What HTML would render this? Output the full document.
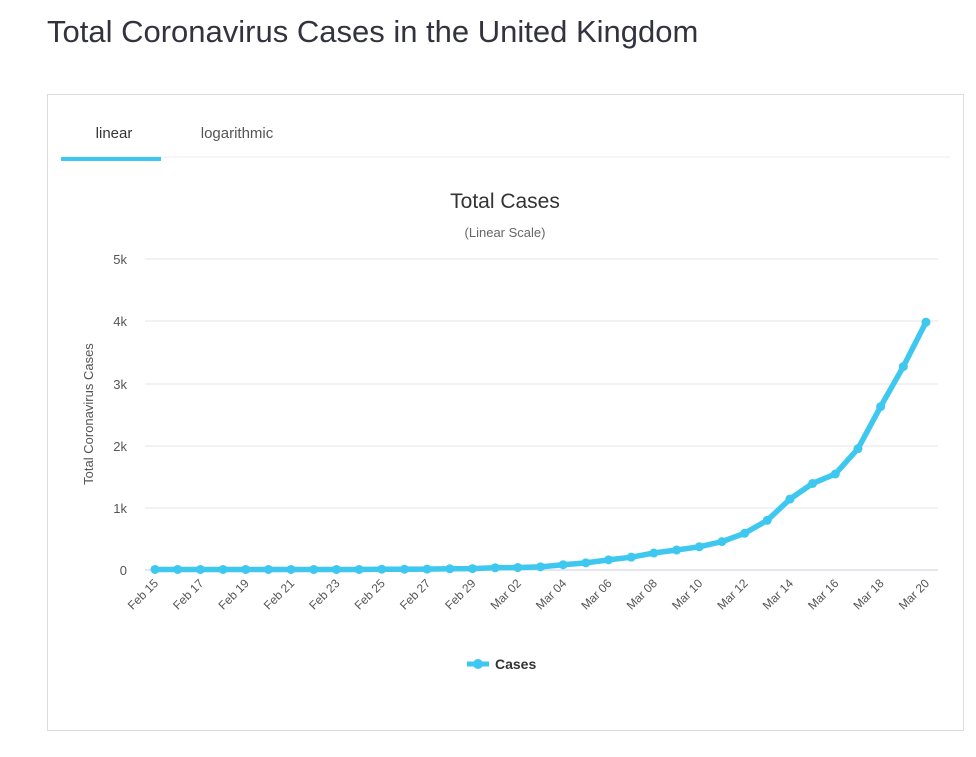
<!DOCTYPE html>
<html><head><meta charset="utf-8"><style>
body{margin:0;background:#fff;width:976px;height:757px;overflow:hidden;font-family:"Liberation Sans",sans-serif;}
h1{position:absolute;left:47px;top:14px;margin:0;font-weight:normal;font-size:31px;color:#333340;}
.box{position:absolute;left:47px;top:94px;width:917px;height:637px;border:1px solid #ddd;box-sizing:border-box;}
</style></head><body>
<h1>Total Coronavirus Cases in the United Kingdom</h1>
<div class="box"></div>
<svg width="976" height="757" style="position:absolute;left:0;top:0" font-family="Liberation Sans, sans-serif">
<line x1="61" y1="157" x2="950" y2="157" stroke="#eee"/>
<text x="114" y="138" font-size="15" fill="#333" text-anchor="middle">linear</text>
<text x="237" y="138" font-size="15" fill="#555" text-anchor="middle">logarithmic</text>
<rect x="61" y="157" width="100" height="4" fill="#3ec8f0"/>
<text x="505" y="208" font-size="21" fill="#333" text-anchor="middle">Total Cases</text>
<text x="505" y="237" font-size="13" fill="#666" text-anchor="middle">(Linear Scale)</text>
<g stroke="#e6e6e6">
<line x1="145" y1="259" x2="938" y2="259"/><line x1="145" y1="321" x2="938" y2="321"/>
<line x1="145" y1="384" x2="938" y2="384"/><line x1="145" y1="446" x2="938" y2="446"/>
<line x1="145" y1="508" x2="938" y2="508"/><line x1="145" y1="570" x2="938" y2="570" stroke="#ccd"/>
</g>
<g font-size="13" fill="#555" text-anchor="end">
<text x="127" y="264">5k</text><text x="127" y="326">4k</text><text x="127" y="389">3k</text>
<text x="127" y="451">2k</text><text x="127" y="513">1k</text><text x="127" y="575">0</text>
</g>
<text transform="translate(93,414) rotate(-90)" font-size="13" fill="#555" text-anchor="middle">Total Coronavirus Cases</text>
<g id="xl" font-size="12" fill="#555" text-anchor="end"></g>
<polyline id="ln" fill="none" stroke="#3ec8f0" stroke-width="5.5" stroke-linejoin="round"/>
<g id="pts" fill="#3ec8f0"></g>
<line x1="467" y1="664" x2="489" y2="664" stroke="#3ec8f0" stroke-width="5"/>
<circle cx="478" cy="664" r="5" fill="#3ec8f0"/>
<text x="495" y="669" font-size="14" font-weight="bold" fill="#333">Cases</text>
</svg>
<script>
var d=[9,9,9,9,9,9,9,9,9,9,13,13,15,20,23,36,40,51,85,115,163,206,273,321,373,456,590,798,1140,1391,1543,1950,2626,3269,3983];
var pts=[],g=document.getElementById('pts'),xl=document.getElementById('xl'),ns='http://www.w3.org/2000/svg';
for(var i=0;i<35;i++){var x=155+i*771/34,y=570-d[i]*0.06222;pts.push(x+','+y);
var c=document.createElementNS(ns,'circle');c.setAttribute('cx',x);c.setAttribute('cy',y);c.setAttribute('r',4.5);g.appendChild(c);
if(i%2==0){var lbl=i<15?'Feb '+(15+i):'Mar '+String(i-14).padStart(2,'0');
var t=document.createElementNS(ns,'text');t.setAttribute('transform','translate('+(x+4)+',584) rotate(-45)');t.textContent=lbl;xl.appendChild(t);}}
document.getElementById('ln').setAttribute('points',pts.join(' '));
</script>
</body></html>
